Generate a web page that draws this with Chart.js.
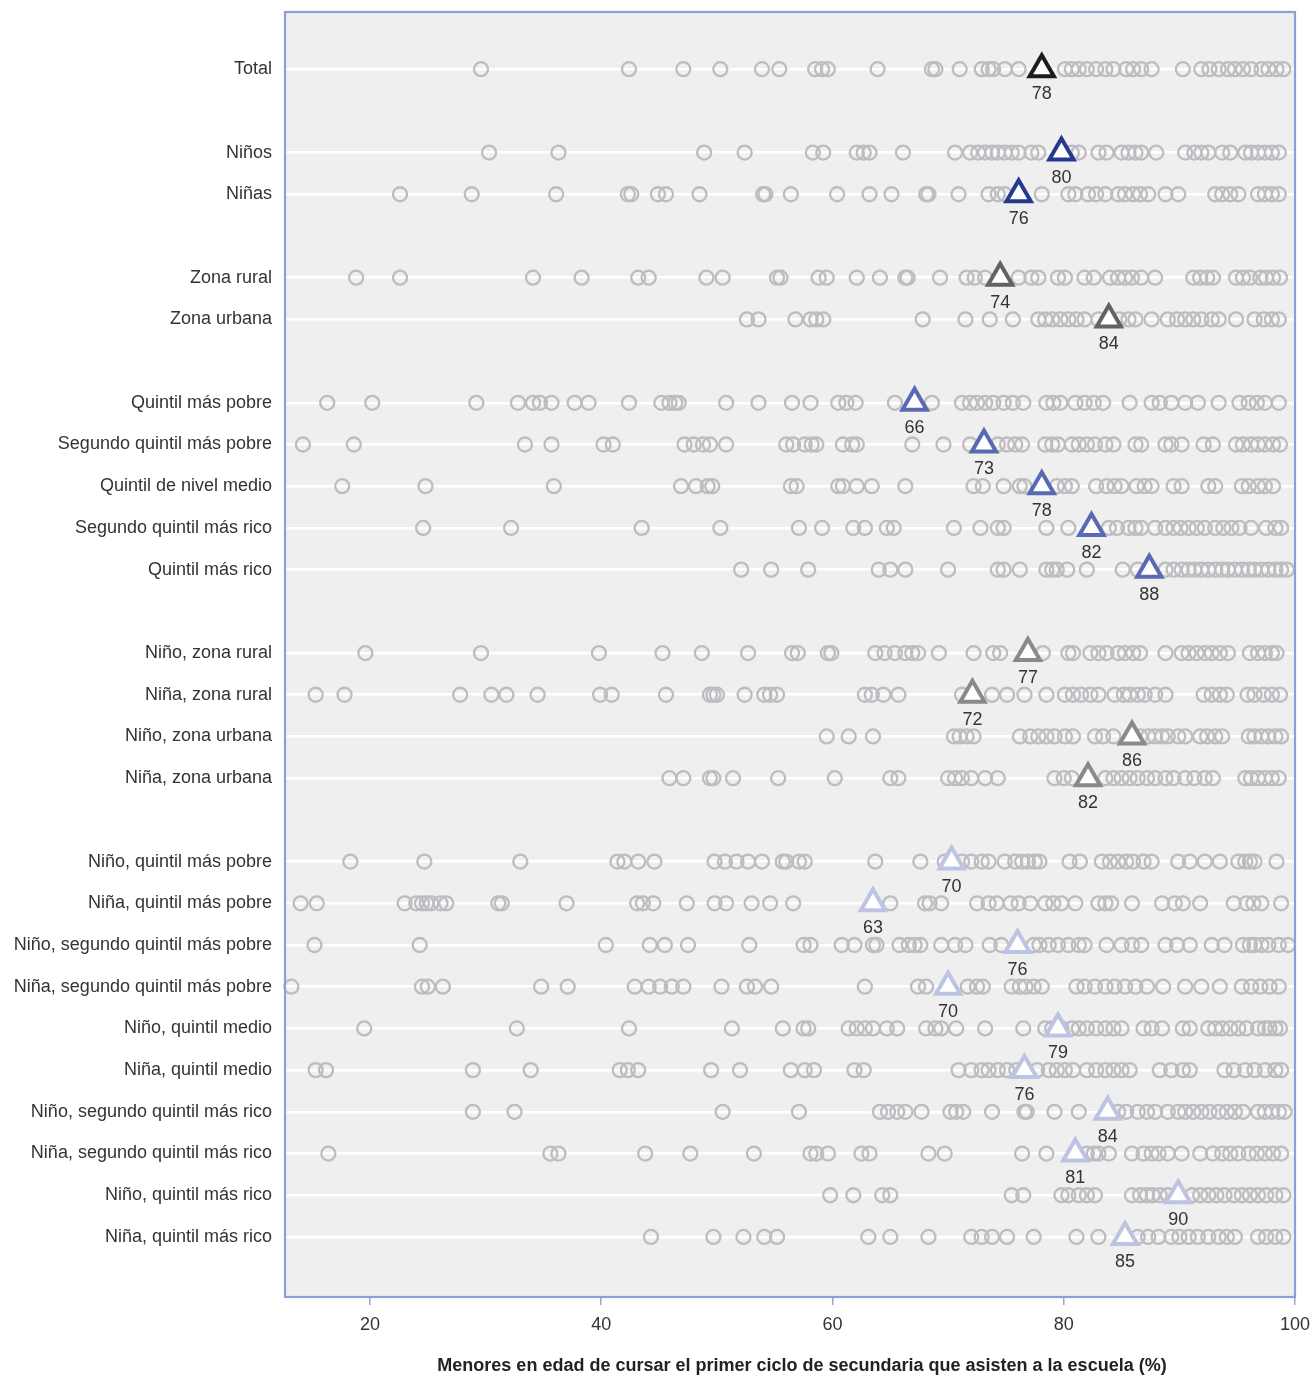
<!DOCTYPE html>
<html lang="es">
<head>
<meta charset="utf-8">
<title>Asistencia escolar, primer ciclo de secundaria</title>
<script src="https://cdn.jsdelivr.net/npm/chart.js@4.4.1/dist/chart.umd.min.js"></script>
<style>
  html, body { margin: 0; padding: 0; background: #fff; }
  #wrap { width: 1310px; height: 1376px; }
</style>
</head>
<body>
<div id="wrap"><canvas id="chart"></canvas></div>
<script>
// Categorías (filas) y su posición vertical (los huecos separan grupos)
const rowLabels = [
    'Total',
    'Niños', 'Niñas',
    'Zona rural', 'Zona urbana',
    'Quintil más pobre', 'Segundo quintil más pobre', 'Quintil de nivel medio', 'Segundo quintil más rico', 'Quintil más rico',
    'Niño, zona rural', 'Niña, zona rural', 'Niño, zona urbana', 'Niña, zona urbana',
    'Niño, quintil más pobre', 'Niña, quintil más pobre', 'Niño, segundo quintil más pobre', 'Niña, segundo quintil más pobre',
    'Niño, quintil medio', 'Niña, quintil medio', 'Niño, segundo quintil más rico', 'Niña, segundo quintil más rico',
    'Niño, quintil más rico', 'Niña, quintil más rico'
];
const rowSlots = [0, 2, 3, 5, 6, 8, 9, 10, 11, 12, 14, 15, 16, 17, 19, 20, 21, 22, 23, 24, 25, 26, 27, 28];

// Valores por país (%), una lista por fila
const total = [29.6, 42.4, 47.1, 50.3, 53.9, 55.4, 58.5, 59.1, 59.6, 63.9, 68.6, 68.9, 71.0, 72.9, 73.5, 73.9, 74.9, 76.1, 80.1, 80.7, 81.3, 82.0, 82.8, 83.6, 84.3, 85.4, 86.0, 86.7, 87.6, 90.3, 91.9, 92.6, 93.4, 94.2, 94.8, 95.5, 96.2, 97.1, 97.7, 98.4, 99.0];
const ninos = [30.3, 36.3, 48.9, 52.4, 58.3, 59.2, 62.1, 62.7, 63.2, 66.1, 70.6, 71.9, 72.6, 73.2, 73.8, 74.3, 74.9, 75.5, 76.1, 77.2, 77.8, 80.7, 81.3, 83.0, 83.7, 85.0, 85.6, 86.2, 86.7, 88.0, 90.5, 91.3, 91.9, 92.5, 93.7, 94.4, 95.7, 96.2, 96.8, 97.4, 98.0, 98.6];
const ninas = [22.6, 28.8, 36.1, 42.3, 42.6, 44.9, 45.6, 48.5, 54.0, 54.2, 56.4, 60.4, 63.2, 65.1, 68.1, 68.3, 70.9, 73.5, 74.3, 74.9, 78.1, 80.4, 81.0, 82.1, 82.8, 83.6, 84.7, 85.3, 86.0, 86.6, 87.3, 88.8, 89.9, 93.1, 93.7, 94.4, 95.1, 96.8, 97.4, 98.0, 98.6];
const zonaRural = [18.8, 22.6, 34.1, 38.3, 43.2, 44.1, 49.1, 50.5, 55.2, 55.5, 58.8, 59.5, 62.1, 64.1, 66.3, 66.5, 69.3, 71.6, 72.3, 73.2, 76.1, 77.2, 77.8, 79.5, 80.1, 81.8, 82.6, 84.0, 84.7, 85.3, 85.9, 86.7, 87.9, 91.2, 91.8, 92.4, 92.9, 94.9, 95.5, 96.1, 97.0, 97.5, 98.1, 98.7];
const zonaUrbana = [52.6, 53.6, 56.8, 58.1, 58.6, 59.2, 67.8, 71.5, 73.6, 75.6, 77.8, 78.4, 79.0, 79.7, 80.4, 81.1, 81.8, 83.0, 84.8, 85.6, 86.2, 87.6, 89.0, 89.8, 90.5, 91.2, 91.9, 92.8, 93.4, 94.9, 96.5, 97.3, 98.0, 98.6];
const q1 = [16.3, 20.2, 29.2, 32.8, 34.1, 34.7, 35.7, 37.7, 38.9, 42.4, 45.2, 45.9, 46.4, 46.7, 50.8, 53.6, 56.5, 58.1, 60.5, 61.2, 62.0, 65.4, 68.6, 71.2, 71.9, 72.5, 73.2, 73.9, 74.8, 75.6, 76.5, 78.5, 79.1, 79.7, 81.0, 81.8, 82.6, 83.4, 85.7, 87.6, 88.3, 89.3, 90.5, 91.6, 93.4, 95.2, 96.0, 96.7, 97.4, 98.6];
const q2 = [14.2, 18.6, 33.4, 35.7, 40.2, 41.0, 47.2, 48.0, 48.8, 49.4, 50.8, 56.0, 56.6, 57.6, 58.2, 58.6, 60.9, 61.7, 62.1, 66.9, 69.6, 71.9, 74.3, 75.1, 75.8, 76.4, 78.4, 79.0, 79.5, 80.7, 81.3, 82.0, 82.7, 83.6, 84.3, 86.2, 86.7, 88.8, 89.3, 90.2, 92.1, 92.9, 94.9, 95.5, 96.2, 96.8, 97.4, 98.1, 98.7];
const q3 = [17.6, 24.8, 35.9, 46.9, 48.2, 49.2, 49.6, 56.4, 56.9, 60.5, 60.9, 62.1, 63.4, 66.3, 72.2, 73.0, 74.8, 76.2, 76.6, 79.4, 80.1, 80.7, 82.8, 83.7, 84.4, 85.0, 86.3, 87.0, 87.6, 89.5, 90.2, 92.5, 93.1, 95.4, 96.0, 96.8, 97.4, 98.1];
const q4 = [24.6, 32.2, 43.5, 50.3, 57.1, 59.1, 61.8, 62.8, 64.7, 65.3, 70.5, 72.8, 74.3, 74.8, 78.5, 80.4, 83.9, 84.6, 85.6, 86.2, 86.7, 87.9, 88.8, 89.5, 90.1, 90.8, 91.5, 92.2, 93.1, 93.8, 94.5, 95.2, 96.2, 97.5, 98.3, 98.8];
const q5 = [52.1, 54.7, 57.9, 64.0, 65.0, 66.3, 70.0, 74.3, 74.8, 76.2, 78.5, 79.0, 79.4, 80.3, 82.0, 85.1, 86.4, 88.8, 89.5, 90.2, 90.8, 91.3, 91.9, 92.5, 93.1, 93.7, 94.2, 94.8, 95.4, 96.0, 96.5, 97.1, 97.7, 98.3, 98.8, 99.3];
const ninoRural = [19.6, 29.6, 39.8, 45.3, 48.7, 52.7, 56.5, 57.0, 59.6, 59.9, 63.7, 64.5, 65.4, 66.3, 66.9, 67.4, 69.2, 72.2, 73.9, 74.5, 78.2, 80.4, 80.8, 82.3, 83.0, 83.7, 84.7, 85.3, 86.0, 86.6, 88.8, 90.2, 90.8, 91.5, 92.2, 92.8, 93.5, 94.2, 96.1, 96.8, 97.4, 98.0, 98.4];
const ninaRural = [15.3, 17.8, 27.8, 30.5, 31.8, 34.5, 39.9, 40.9, 45.6, 49.4, 49.7, 50.0, 52.4, 54.1, 54.6, 55.2, 62.8, 63.4, 64.4, 65.7, 71.2, 73.8, 75.1, 76.6, 78.5, 80.1, 80.8, 81.5, 82.3, 83.0, 84.4, 85.2, 85.7, 86.4, 87.0, 87.9, 88.8, 92.1, 92.8, 93.5, 94.1, 95.9, 96.5, 97.3, 98.0, 98.7];
const ninoUrbana = [59.5, 61.4, 63.5, 70.5, 71.0, 71.6, 72.2, 76.2, 77.1, 77.8, 78.5, 79.2, 80.1, 80.8, 82.7, 83.4, 84.3, 86.6, 87.3, 87.9, 88.5, 89.0, 89.9, 90.5, 91.8, 92.4, 93.1, 93.7, 96.0, 96.5, 97.1, 97.7, 98.3, 98.8];
const ninaUrbana = [45.9, 47.1, 49.4, 49.7, 51.4, 55.3, 60.2, 65.0, 65.7, 70.0, 70.6, 71.2, 72.0, 73.2, 74.3, 79.2, 80.0, 80.7, 83.6, 84.3, 85.0, 85.7, 86.4, 87.2, 87.9, 88.8, 89.5, 90.5, 91.3, 92.2, 92.9, 95.7, 96.2, 96.8, 97.4, 98.0, 98.6];
const ninoQ1 = [18.3, 24.7, 33.0, 41.4, 42.0, 43.2, 44.6, 49.8, 50.7, 51.7, 52.7, 53.9, 55.7, 56.0, 57.1, 57.6, 63.7, 67.6, 69.7, 71.2, 72.0, 72.9, 73.5, 74.9, 75.8, 76.4, 76.9, 77.5, 77.9, 80.5, 81.4, 83.3, 84.0, 84.7, 85.4, 86.0, 86.9, 87.6, 89.9, 90.9, 92.2, 93.5, 95.1, 95.7, 96.1, 96.5, 98.4];
const ninaQ1 = [14.0, 15.4, 23.0, 24.0, 24.5, 24.9, 25.3, 26.1, 26.6, 31.1, 31.4, 37.0, 43.1, 43.6, 44.5, 47.4, 49.8, 50.8, 53.0, 54.6, 56.6, 65.0, 68.0, 68.4, 69.4, 72.5, 73.5, 74.2, 75.4, 76.1, 77.1, 78.4, 79.1, 79.8, 81.0, 83.0, 83.6, 84.1, 85.9, 88.5, 89.6, 90.3, 91.8, 94.7, 95.8, 96.4, 97.1, 98.8];
const ninoQ2 = [15.2, 24.3, 40.4, 44.2, 45.5, 47.5, 52.8, 57.5, 58.1, 60.8, 61.9, 63.5, 63.8, 65.8, 66.6, 67.1, 67.6, 69.4, 70.6, 71.5, 73.6, 74.6, 77.4, 77.9, 78.7, 79.5, 80.4, 81.3, 81.8, 83.7, 85.0, 85.9, 86.7, 88.8, 89.8, 90.9, 92.8, 93.9, 95.5, 96.1, 96.5, 97.1, 97.7, 98.6, 99.4];
const ninaQ2 = [13.2, 24.5, 25.0, 26.3, 34.8, 37.1, 42.9, 44.1, 45.1, 46.1, 47.1, 50.4, 52.6, 53.3, 54.7, 62.8, 67.4, 68.1, 71.7, 72.5, 73.0, 75.5, 76.2, 76.7, 77.4, 78.1, 81.1, 81.8, 82.7, 83.6, 84.4, 85.3, 86.2, 87.2, 88.6, 90.5, 91.9, 93.5, 95.4, 96.2, 97.0, 97.8, 98.6];
const ninoQ3 = [19.5, 32.7, 42.4, 51.3, 55.7, 57.5, 57.9, 61.4, 62.1, 62.8, 63.5, 64.7, 65.6, 68.1, 68.9, 69.4, 70.7, 73.2, 76.5, 78.4, 79.0, 79.8, 80.7, 81.3, 82.0, 82.8, 83.6, 84.3, 85.0, 86.9, 87.6, 88.5, 90.3, 90.9, 92.5, 93.1, 93.7, 94.4, 95.1, 95.8, 96.8, 97.4, 97.8, 98.3, 98.7];
const ninaQ3 = [15.3, 16.2, 28.9, 33.9, 41.6, 42.3, 43.2, 49.5, 52.0, 56.4, 57.6, 58.4, 61.9, 62.7, 70.9, 72.0, 72.9, 73.5, 74.3, 75.1, 75.9, 77.7, 78.7, 79.4, 80.1, 80.8, 82.0, 82.8, 83.6, 84.3, 85.0, 85.7, 88.3, 89.3, 90.3, 90.9, 93.9, 94.7, 95.7, 96.5, 97.4, 98.3, 98.8];
const ninoQ4 = [28.9, 32.5, 50.5, 57.1, 64.1, 64.8, 65.6, 66.3, 67.7, 70.2, 70.7, 71.3, 73.8, 76.6, 76.8, 79.2, 81.3, 84.7, 85.4, 86.4, 87.2, 87.9, 89.0, 89.9, 90.5, 91.2, 91.9, 92.6, 93.4, 94.1, 94.8, 95.5, 96.8, 97.4, 98.0, 98.6, 99.1];
const ninaQ4 = [16.4, 35.6, 36.3, 43.8, 47.7, 53.2, 58.1, 58.6, 59.6, 62.5, 63.2, 68.3, 69.7, 76.4, 78.5, 82.0, 82.6, 83.0, 83.9, 85.9, 86.9, 87.6, 88.2, 89.0, 90.2, 91.8, 92.9, 93.7, 94.4, 95.1, 96.0, 96.7, 97.4, 98.1, 98.8];
const ninoQ5 = [59.8, 61.8, 64.3, 65.0, 75.5, 76.5, 79.8, 80.4, 81.3, 82.0, 82.7, 85.9, 86.6, 87.2, 87.7, 88.3, 89.0, 91.1, 91.8, 92.5, 93.2, 93.9, 94.7, 95.4, 96.1, 96.8, 97.5, 98.3, 99.0];
const ninaQ5 = [44.3, 49.7, 52.3, 54.1, 55.2, 63.1, 65.0, 68.3, 72.0, 72.9, 73.8, 75.1, 77.4, 81.1, 83.0, 86.4, 87.3, 88.2, 89.3, 90.0, 90.8, 91.6, 92.5, 93.4, 94.1, 94.8, 96.8, 97.5, 98.3, 99.0];

// Mediana de cada fila (posición del triángulo) y el número impreso debajo
const medianValues = [78.1, 79.8, 76.1, 74.5, 83.9, 67.1, 73.1, 78.1, 82.4, 87.4, 76.9, 72.1, 85.9, 82.1, 70.3, 63.5, 76.0, 70.0, 79.5, 76.6, 83.8, 81.0, 89.9, 85.3];
const medianLabels = ['78', '80', '76', '74', '84', '66', '73', '78', '82', '88', '77', '72', '86', '82', '70', '63', '76', '70', '79', '76', '84', '81', '90', '85'];

// Marcas del eje x
const xTicks = [20, 40, 60, 80, 100];
const xTitle = 'Menores en edad de cursar el primer ciclo de secundaria que asisten a la escuela (%)';

const rows = [total, ninos, ninas, zonaRural, zonaUrbana, q1, q2, q3, q4, q5,
    ninoRural, ninaRural, ninoUrbana, ninaUrbana,
    ninoQ1, ninaQ1, ninoQ2, ninaQ2, ninoQ3, ninaQ3, ninoQ4, ninaQ4, ninoQ5, ninaQ5];

// Colores de los triángulos por grupo
const groupColors = {
    total: '#1d1d1d', sexo: '#26398f', zona: '#636363',
    quintil: '#5a69b4', sexoZona: '#8a8a8a', sexoQuintil: '#bcc3e3'
};
const triColors = [groupColors.total,
    groupColors.sexo, groupColors.sexo,
    groupColors.zona, groupColors.zona]
    .concat(Array(5).fill(groupColors.quintil))
    .concat(Array(4).fill(groupColors.sexoZona))
    .concat(Array(10).fill(groupColors.sexoQuintil));

const labelBySlot = {};
rowSlots.forEach((s, i) => { labelBySlot[s] = rowLabels[i]; });

const dots = [];
rows.forEach((vals, i) => {
    vals.forEach(v => dots.push({ x: v, y: rowSlots[i] }));
});
const medians = medianValues.map((v, i) => ({ x: v, y: rowSlots[i] }));

const FONT = '"Liberation Sans", Arial, Helvetica, sans-serif';

// Fondo gris, marco azul y título del eje x
const plotFrame = {
    id: 'plotFrame',
    beforeDraw(chart) {
        const { ctx, chartArea: a } = chart;
        ctx.save();
        ctx.fillStyle = '#efefef';
        ctx.fillRect(a.left, a.top, a.right - a.left, a.bottom - a.top);
        ctx.restore();
    },
    afterDraw(chart) {
        const { ctx, chartArea: a } = chart;
        ctx.save();
        ctx.strokeStyle = '#8e9ed6';
        ctx.lineWidth = 2.2;
        ctx.strokeRect(a.left, a.top, a.right - a.left, a.bottom - a.top);
        // título del eje, algo desplazado a la derecha como en el original
        ctx.font = 'bold 18px ' + FONT;
        ctx.fillStyle = '#222222';
        ctx.textAlign = 'center';
        ctx.textBaseline = 'middle';
        ctx.fillText(xTitle, (a.left + a.right) / 2 + 12, a.bottom + 69);
        ctx.restore();
    }
};

// Números de la mediana bajo cada triángulo
const medianText = {
    id: 'medianText',
    afterDatasetsDraw(chart) {
        const { ctx } = chart;
        const meta = chart.getDatasetMeta(1);
        ctx.save();
        ctx.font = '18px ' + FONT;
        ctx.fillStyle = '#333333';
        ctx.textAlign = 'center';
        ctx.textBaseline = 'middle';
        meta.data.forEach((pt, i) => {
            ctx.fillText(medianLabels[i], pt.x, pt.y + 25);
        });
        ctx.restore();
    }
};

new Chart(document.getElementById('chart'), {
    type: 'scatter',
    data: {
        datasets: [{
            label: 'Países',
            data: dots,
            pointStyle: 'circle',
            pointRadius: 7,
            pointBorderWidth: 2.3,
            borderColor: '#bdbdc1',
            backgroundColor: 'rgba(0,0,0,0)',
            clip: false,
            order: 2
        }, {
            label: 'Mediana',
            data: medians,
            pointStyle: 'triangle',
            pointRadius: 14,
            pointBorderWidth: 4,
            borderColor: triColors,
            pointBorderColor: triColors,
            backgroundColor: '#ffffff',
            pointBackgroundColor: '#ffffff',
            clip: false,
            order: 1
        }]
    },
    options: {
        responsive: true,
        maintainAspectRatio: false,
        animation: false,
        events: [],
        layout: { autoPadding: false, padding: { top: 12, right: 15, left: 0, bottom: 0 } },
        plugins: {
            legend: { display: false },
            tooltip: { enabled: false }
        },
        scales: {
            x: {
                type: 'linear',
                min: 12.65,
                max: 100,
                afterBuildTicks: scale => { scale.ticks = xTicks.map(v => ({ value: v })); },
                afterFit: scale => {
                    scale.height = 79;
                    scale.paddingLeft = 0;
                    scale.paddingRight = 0;
                },
                border: { display: false },
                grid: { drawOnChartArea: false, drawTicks: true, tickLength: 8, color: '#9aa6d6', lineWidth: 1.5 },
                ticks: { color: '#333333', font: { family: FONT, size: 18 }, padding: 9, maxRotation: 0 },
                title: { display: false }
            },
            y: {
                type: 'linear',
                reverse: true,
                min: -1.37,
                max: 29.44,
                afterBuildTicks: scale => { scale.ticks = rowSlots.map(v => ({ value: v })); },
                afterFit: scale => {
                    scale.width = 285;
                    scale.paddingTop = 0;
                    scale.paddingBottom = 0;
                },
                border: { display: false },
                grid: { color: '#ffffff', lineWidth: 2.5, drawTicks: false },
                ticks: {
                    autoSkip: false,
                    padding: 13,
                    color: '#333333',
                    font: { family: FONT, size: 18 },
                    callback: v => labelBySlot[v] || ''
                }
            }
        }
    },
    plugins: [plotFrame, medianText]
});
</script>
</body>
</html>
